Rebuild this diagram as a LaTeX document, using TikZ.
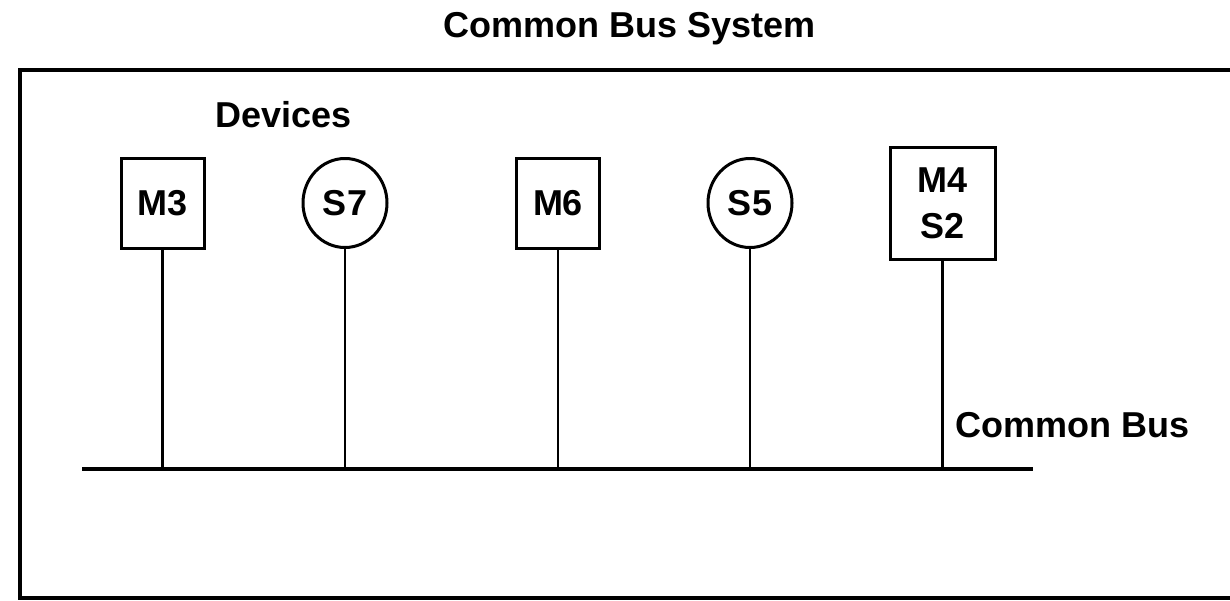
\documentclass[tikz,border=0pt]{standalone}
\usepackage{fontspec}
\setmainfont{Liberation Sans}
\usetikzlibrary{shapes.geometric}
\begin{document}
\begin{tikzpicture}[x=1pt,y=-1pt,
  lbl/.style={font=\fontsize{36}{46}\selectfont\bfseries, inner sep=0pt},
  dev/.style={draw, line width=3pt, lbl, align=center},
  devbox/.style={dev, rectangle},
  devcirc/.style={dev, ellipse, minimum width=84pt, minimum height=89pt},
  wire/.style={line width=2.4pt},
  bus/.style={line width=3.8pt},
  frame/.style={line width=3.2pt}
]
\useasboundingbox (0,0) rectangle (1230,600);
\fill[white] (0,0) rectangle (1230,600);
\begin{scope}
\clip (0,0) rectangle (1230,600);
\draw[frame] (20,70) rectangle (1260,598);
\end{scope}
% title and labels
\node[lbl, anchor=base] (title) at (630,37) {Common Bus System};
\node[lbl, anchor=base west] (devices) at (215,127) {Devices};
\node[lbl, anchor=base west] (buslabel) at (955,437) {Common Bus};
% devices
\node[devbox, minimum width=83pt, minimum height=90pt] (m3) at (162.5,203) {M3};
\node[devcirc] (s7) at (345,203) {S7};
\node[devbox, minimum width=83pt, minimum height=90pt] (m6) at (558,203) {M6};
\node[devcirc] (s5) at (750,203) {S5};
\node[devbox, minimum width=105pt, minimum height=112pt] (m4) at (942.5,203) {M4\\S2};
% bus
\coordinate (busL) at (82,469);
\coordinate (busR) at (1033,469);
\draw[bus] (busL) -- (busR);
\foreach \d in {m3,s7,m6,s5,m4}{
  \draw[wire] (\d.south) -- (\d.south |- busL);
}
\end{tikzpicture}
\end{document}
